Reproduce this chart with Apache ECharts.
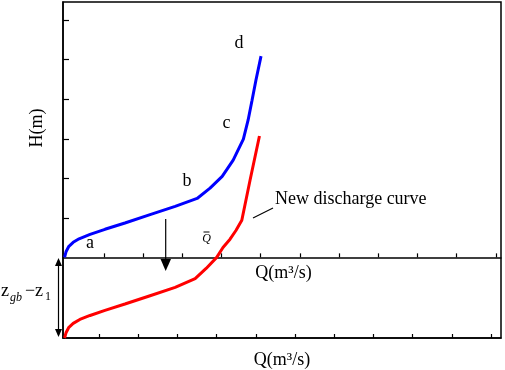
<!DOCTYPE html>
<html>
<head>
<meta charset="utf-8">
<script src="https://cdn.jsdelivr.net/npm/echarts@6/dist/echarts.min.js"></script>
<style>
  html, body { margin: 0; padding: 0; background: #fff; }
  #chart { width: 505px; height: 370px; }
</style>
</head>
<body>
<div id="chart"></div>
<script>
// original rating curve (blue), upper panel
var oldQ = [0, 0.04, 0.11, 0.22, 0.37, 0.65, 1.03, 1.54, 2.18, 2.82, 3.38, 3.71, 4.02, 4.30, 4.56, 4.68, 4.78, 4.88, 5.01];
var oldH = [0, 0.15, 0.28, 0.38, 0.47, 0.58, 0.71, 0.87, 1.08, 1.29, 1.49, 1.75, 2.05, 2.46, 2.99, 3.47, 3.97, 4.48, 5.09];
// new discharge curve (red), starts at z_gb - z_1 below
var newQ = [0, 0.04, 0.11, 0.22, 0.39, 0.65, 1.03, 1.54, 2.18, 2.82, 3.33, 3.61, 3.88, 4.04, 4.22, 4.37, 4.52, 4.73, 4.97];
var newH = [-2.04, -1.90, -1.77, -1.67, -1.57, -1.47, -1.34, -1.18, -0.97, -0.76, -0.54, -0.28, 0, 0.25, 0.46, 0.68, 0.94, 1.95, 3.07];
var qTicks = [1, 2, 3, 4, 5, 6, 7, 8, 9, 10, 11];
var hTicks = [1, 2, 3, 4, 5, 6];

var serif = 'Liberation Serif';

function zip(a, b) {
  var out = [];
  for (var i = 0; i < a.length; i++) {
    out.push([a[i], b[i]]);
  }
  return out;
}

function txt(x, y, text, size, extra) {
  var style = { text: text, fontSize: size, fontFamily: serif, fill: '#000', align: 'center', verticalAlign: 'middle' };
  for (var k in extra || {}) style[k] = extra[k];
  return { type: 'text', x: x, y: y, style: style };
}

var myChart = echarts.init(document.getElementById('chart'));
myChart.setOption({
  animation: false,
  textStyle: { fontFamily: serif, color: '#000' },
  grid: {
    left: 63,
    right: 4,
    top: 2,
    bottom: 32,
    show: true,
    borderColor: '#000',
    borderWidth: 1.5,
    outerBoundsMode: 'none'
  },
  xAxis: [
    {
      type: 'value',
      min: -0.04,
      max: 11.13,
      axisLine: { show: true, onZero: true, lineStyle: { color: '#000', width: 1.5 } },
      axisTick: { show: true, inside: true, length: 4, customValues: qTicks, lineStyle: { color: '#000', width: 1.2 } },
      axisLabel: { show: false },
      splitLine: { show: false }
    },
    {
      type: 'value',
      position: 'bottom',
      min: 0.082,
      max: 11.255,
      name: 'Q(m³/s)',
      nameLocation: 'middle',
      nameGap: 13,
      nameTextStyle: { fontSize: 18, fontFamily: serif, color: '#000' },
      axisLine: { show: true, onZero: false, lineStyle: { color: '#000', width: 1.5 } },
      axisTick: { show: true, inside: true, length: 4, customValues: qTicks, lineStyle: { color: '#000', width: 1.2 } },
      axisLabel: { show: false },
      splitLine: { show: false }
    }
  ],
  yAxis: {
    type: 'value',
    min: -2.04,
    max: 6.46,
    axisLine: { show: true, onZero: false, lineStyle: { color: '#000', width: 1.5 } },
    axisTick: { show: true, inside: true, length: 6, customValues: hTicks, lineStyle: { color: '#000', width: 1.2 } },
    axisLabel: { show: false },
    splitLine: { show: false }
  },
  series: [
    {
      name: 'old',
      type: 'line',
      xAxisIndex: 0,
      data: zip(oldQ, oldH),
      showSymbol: false,
      symbol: 'none',
      clip: false,
      lineStyle: { color: '#0000ff', width: 3 }
    },
    {
      name: 'new',
      type: 'line',
      xAxisIndex: 0,
      data: zip(newQ, newH),
      showSymbol: false,
      symbol: 'none',
      clip: false,
      lineStyle: { color: '#ff0000', width: 3 }
    }
  ],
  graphic: [
    // axis titles
    { type: 'text', x: 37, y: 128, rotation: Math.PI / 2,
      style: { text: 'H(m)', fontSize: 18, fontFamily: serif, fill: '#000', align: 'center', verticalAlign: 'middle' } },
    txt(283.5, 273, 'Q(m³/s)', 18),
    // point labels
    txt(90, 243, 'a', 18),
    txt(187, 181, 'b', 18),
    txt(226.5, 123.5, 'c', 18),
    txt(239, 43, 'd', 18),
    // Q bar
    txt(206.5, 239, 'Q', 12, { fontStyle: 'italic' }),
    { type: 'line', shape: { x1: 203.5, y1: 232, x2: 209.5, y2: 232 }, style: { stroke: '#000', lineWidth: 1 } },
    // new discharge curve note
    { type: 'line', shape: { x1: 253, y1: 218, x2: 273, y2: 208 }, style: { stroke: '#000', lineWidth: 1.2 } },
    txt(275, 199, 'New discharge curve', 18, { align: 'left' }),
    // shift arrow
    { type: 'line', shape: { x1: 165.7, y1: 219, x2: 165.7, y2: 262 }, style: { stroke: '#000', lineWidth: 1.2 } },
    { type: 'polygon', shape: { points: [[160.5, 259], [171, 259], [165.7, 271]] }, style: { fill: '#000' } },
    // z_gb - z_1 dimension
    { type: 'line', shape: { x1: 58.5, y1: 260, x2: 58.5, y2: 335 }, style: { stroke: '#000', lineWidth: 1.2 } },
    { type: 'polygon', shape: { points: [[55, 266], [62, 266], [58.5, 258]] }, style: { fill: '#000' } },
    { type: 'polygon', shape: { points: [[55, 329], [62, 329], [58.5, 337]] }, style: { fill: '#000' } },
    txt(1, 291, 'z', 18, { align: 'left' }),
    txt(10, 298, 'gb', 12, { align: 'left', fontStyle: 'italic' }),
    txt(25, 291, '−', 18, { align: 'left' }),
    txt(35, 291, 'z', 18, { align: 'left' }),
    txt(45, 297, '1', 12, { align: 'left' })
  ]
});
window.addEventListener('resize', function () {
  myChart.resize();
});
</script>
</body>
</html>
